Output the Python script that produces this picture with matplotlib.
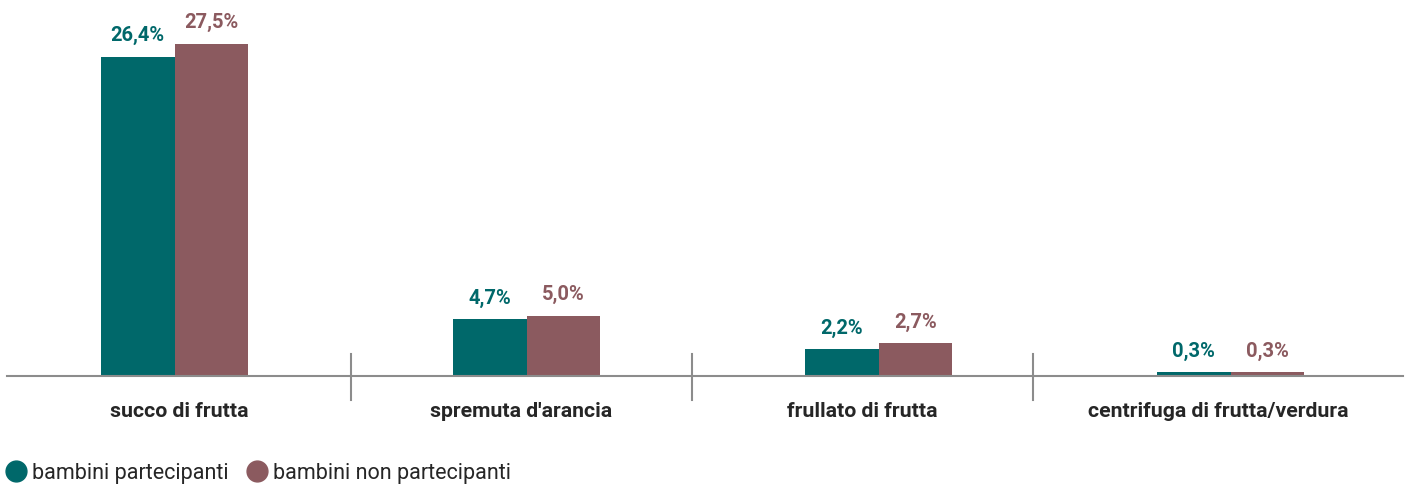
import matplotlib
matplotlib.use("agg")
import matplotlib.pyplot as plt
from matplotlib.lines import Line2D
from matplotlib.transforms import blended_transform_factory
import numpy as np

categories = ["succo di frutta", "spremuta d'arancia", "frullato di frutta",
              "centrifuga di frutta/verdura"]
partecipanti = [26.4, 4.7, 2.2, 0.3]
non_partecipanti = [27.5, 5.0, 2.7, 0.3]
series_names = ["bambini partecipanti", "bambini non partecipanti"]

teal = "#00686A"
mauve = "#8B5A5F"
grey = "#8C8C8C"
text_col = "#262626"

plt.rcParams["font.family"] = ["Roboto", "DejaVu Sans"]

W, H = 1407, 489
fig = plt.figure(figsize=(W / 100, H / 100), dpi=100)
ax = fig.add_axes([7 / W, (H - 377) / H, (1403 - 7) / W, 377 / H])

x = np.arange(len(categories))
bw = 0.209
b1 = ax.bar(x - bw / 2, partecipanti, bw, color=teal)
b2 = ax.bar(x + bw / 2, non_partecipanti, bw, color=mauve)

# value labels
def fmt(v):
    return f"{v:.1f}%".replace(".", ",")

for bars, vals, col in [(b1, partecipanti, teal), (b2, non_partecipanti, mauve)]:
    for r, v in zip(bars, vals):
        ax.annotate(fmt(v), (r.get_x() + r.get_width() / 2, v),
                    xytext=(0, 12), textcoords="offset points",
                    ha="center", va="baseline", fontsize=14.5,
                    fontweight="bold", color=col)

x0, x1 = -0.476, 3.49
ax.set_xlim(x0, x1)
ax.set_ylim(0, 31.2)
for s in ["top", "right", "left"]:
    ax.spines[s].set_visible(False)
ax.spines["bottom"].set_color(grey)
ax.spines["bottom"].set_linewidth(1.5)
ax.set_xticks([])
ax.set_yticks([])

# group separators and category labels
separators = [0.5, 1.47, 2.44]
trans = blended_transform_factory(ax.transData, fig.transFigure)
for s in separators:
    ax.plot([s, s], [(H - 355) / H, (H - 401) / H], color=grey, lw=1.5,
            transform=trans, clip_on=False)

edges = [x0] + separators + [x1]
for i, cat in enumerate(categories):
    xc = (edges[i] + edges[i + 1]) / 2
    ax.text(xc, (H - 412) / H, cat, transform=trans, ha="center", va="center",
            fontsize=15.3, fontweight="bold", color=text_col)

handles = [Line2D([], [], marker="o", ls="", markersize=15, color=c)
           for c in [teal, mauve]]
fig.legend(handles, series_names, loc="center left",
           bbox_to_anchor=(5 / W, (H - 474) / H), ncol=2, frameon=False,
           fontsize=15.5, handlelength=1.0, handletextpad=0.25,
           columnspacing=0.8, borderaxespad=0, borderpad=0,
           labelcolor=text_col)

fig.savefig("out.png", dpi=100)
